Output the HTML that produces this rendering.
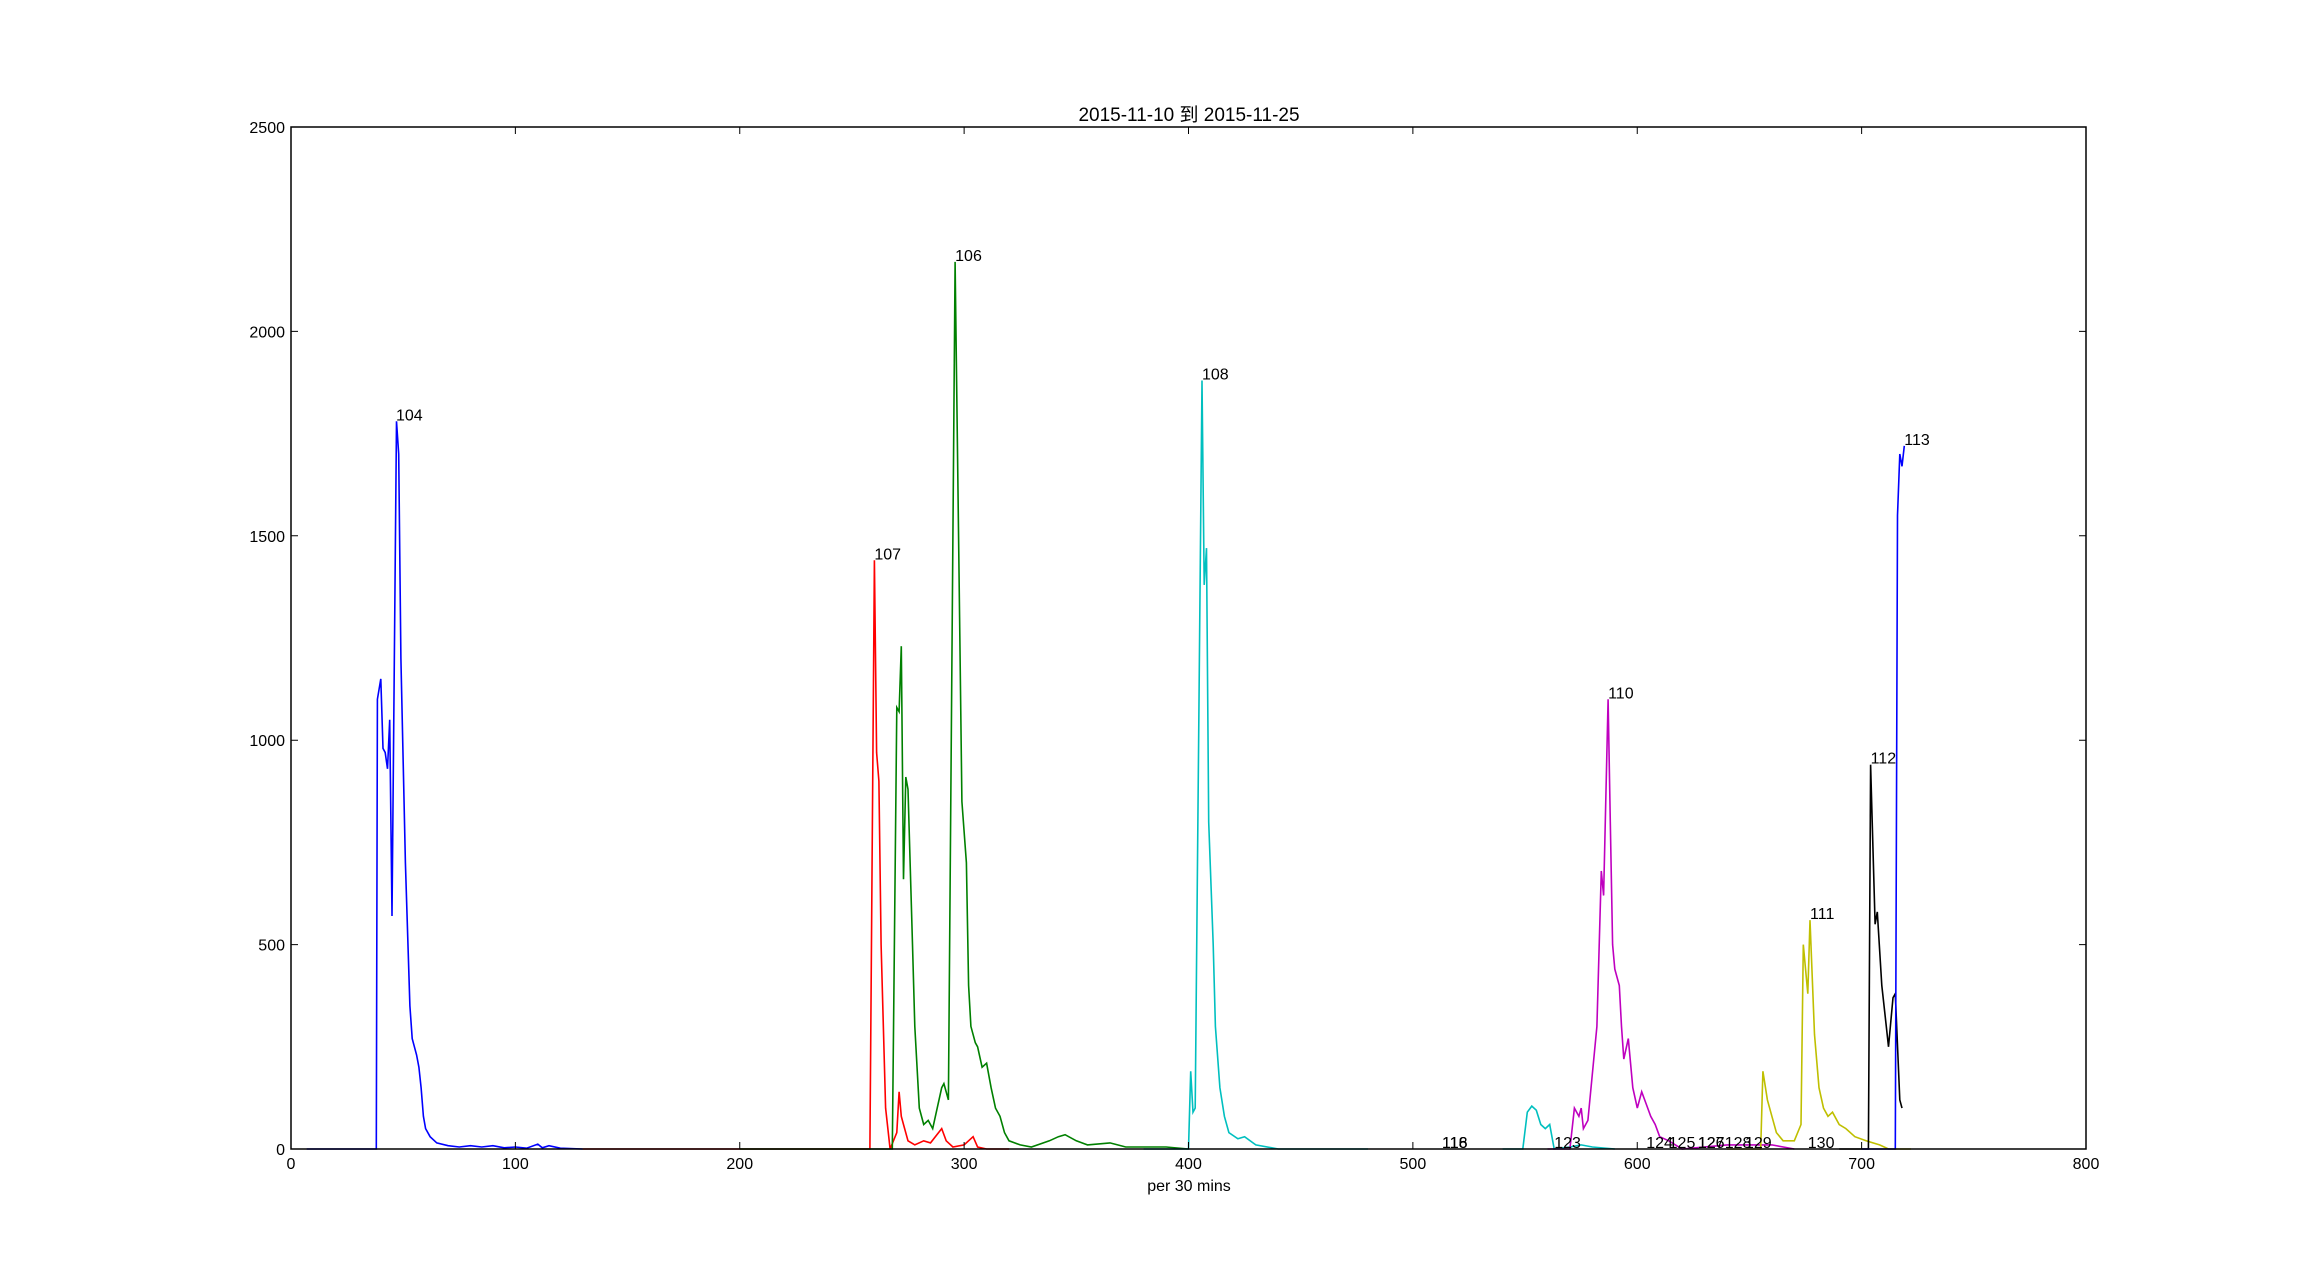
<!DOCTYPE html>
<html><head><meta charset="utf-8">
<style>
html,body{margin:0;padding:0;background:#fff;}
svg{display:block;}
text{font-family:"Liberation Sans","Noto Sans CJK SC",sans-serif;fill:#000;}
</style></head>
<body>
<svg id="chart" width="2318" height="1277" viewBox="0 0 2318 1277" xmlns="http://www.w3.org/2000/svg">
<rect x="0" y="0" width="2318" height="1277" fill="#fff"/>
<text x="1189" y="121" font-size="19" text-anchor="middle">2015-11-10 到 2015-11-25</text>
<text x="1189" y="1191" font-size="16" text-anchor="middle">per 30 mins</text>
<g id="series"></g>
<g id="labels"></g>
<rect x="291" y="127" width="1795" height="1022" fill="none" stroke="#000" stroke-width="1.5"/>
<g id="ticks"></g>
</svg>
<script>
const xTicks = [0,100,200,300,400,500,600,700,800];
const yTicks = [0,500,1000,1500,2000,2500];
const seriesNames = ['104','107','106','108','123','110','111','112','113'];
const seriesColors = ['#0000ff','#ff0000','#008000','#00bfbf','#00bfbf','#bf00bf','#bfbf00','#000000','#0000ff'];
const s104x = [7,38,38.5,40,41,42,43,44,45,47,48,49,51,53,54,55,56,57,58,59,60,62,65,70,75,80,85,90,95,100,105,110,112,115,120,130];
const s104y = [0,0,1100,1150,980,970,930,1050,570,1780,1700,1200,700,350,270,250,230,200,150,80,50,30,15,8,5,8,5,8,3,5,2,12,3,8,2,0];
const s107x = [130,258,260,261,262,263,265,267,270,271,272,273,275,278,282,285,290,292,295,300,304,306,310,320];
const s107y = [0,0,1440,970,900,500,100,0,40,140,80,60,20,10,20,15,50,20,5,10,30,5,0,0];
const s106x = [200,268,270,271,272,273,274,275,277,278,280,282,284,286,288,290,291,293,296,298,299,301,302,303,305,306,308,310,312,314,316,318,320,325,330,338,342,345,350,355,365,372,390,400];
const s106y = [0,0,1080,1070,1230,660,910,880,500,300,100,60,70,50,100,150,160,120,2170,1300,850,700,400,300,260,250,200,210,150,100,80,40,20,10,5,20,30,35,20,10,15,5,5,0];
const s108x = [380,400,401,402,403,406,407,408,409,411,412,414,416,418,422,425,430,440,480];
const s108y = [0,0,190,90,100,1880,1380,1470,800,500,300,150,80,40,25,30,10,0,0];
const s123x = [540,549,551,553,555,557,559,561,563,570,575,580,590];
const s123y = [0,0,90,105,95,60,50,60,0,5,10,5,0];
const s110x = [560,570,572,574,575,576,578,582,584,585,587,588,589,590,592,593,594,596,598,600,602,604,606,608,610,614,620,640,660,670];
const s110y = [0,0,100,80,100,50,70,300,680,620,1100,800,500,440,400,300,220,270,150,100,140,110,80,60,30,20,0,10,10,0];
const s111x = [640,655,656,658,660,662,665,670,673,674,676,677,679,681,683,685,687,690,693,697,702,708,712,722];
const s111y = [0,0,190,120,80,40,20,20,60,500,380,560,280,150,100,80,90,60,50,30,20,10,0,0];
const s112x = [690,703,704,706,707,709,711,712,714,715,717,718];
const s112y = [0,0,940,550,580,400,300,250,370,380,120,100];
const s113x = [700,715,716,717,718,719];
const s113y = [0,0,1550,1700,1670,1720];
const seriesX = [s104x,s107x,s106x,s108x,s123x,s110x,s111x,s112x,s113x];
const seriesY = [s104y,s107y,s106y,s108y,s123y,s110y,s111y,s112y,s113y];
const labelText = ['104','107','106','108','110','111','112','113','116','118','123','124','125','126','127','128','129','130'];
const labelX = [46.8,260,296,406,587,677,704,719,513,513,563,604,614,627,627,639,648,676];
const labelY = [1780,1440,2170,1880,1100,560,940,1720,0,0,0,0,0,0,0,0,0,0];

const L=291,R=2086,T=127,B=1149;
function sx(v){return L+(v-0)/800*(R-L);}
function sy(v){return B-(v-0)/2500*(B-T);}
const NS='http://www.w3.org/2000/svg';
const gS=document.getElementById('series');
for(let i=0;i<seriesX.length;i++){
  const p=document.createElementNS(NS,'polyline');
  p.setAttribute('points',seriesX[i].map((x,j)=>sx(x).toFixed(1)+','+sy(seriesY[i][j]).toFixed(1)).join(' '));
  p.setAttribute('fill','none');p.setAttribute('stroke',seriesColors[i]);p.setAttribute('stroke-width','1.6');
  
  
  gS.appendChild(p);
}
const gL=document.getElementById('labels');
for(let i=0;i<labelText.length;i++){
  const t=document.createElementNS(NS,'text');
  t.setAttribute('x',sx(labelX[i]));t.setAttribute('y',sy(labelY[i])-1);t.setAttribute('font-size','16');
  t.textContent=labelText[i];
  
  
  gL.appendChild(t);
}
const gT=document.getElementById('ticks');
xTicks.forEach(v=>{
  const x=sx(v);
  const l=document.createElementNS(NS,'path');
  l.setAttribute('d','M'+x+','+B+'v-7M'+x+','+T+'v7');l.setAttribute('stroke','#000');l.setAttribute('stroke-width','1');
  
  
  gT.appendChild(l);
  const t=document.createElementNS(NS,'text');
  t.setAttribute('x',x);t.setAttribute('y',B+20);t.setAttribute('font-size','16');t.setAttribute('text-anchor','middle');
  t.textContent=v;
  
  
  gT.appendChild(t);
});
yTicks.forEach(v=>{
  const y=sy(v);
  const l=document.createElementNS(NS,'path');
  l.setAttribute('d','M'+L+','+y+'h7M'+R+','+y+'h-7');l.setAttribute('stroke','#000');l.setAttribute('stroke-width','1');
  
  
  gT.appendChild(l);
  const t=document.createElementNS(NS,'text');
  t.setAttribute('x',L-6);t.setAttribute('y',y+6);t.setAttribute('font-size','16');t.setAttribute('text-anchor','end');
  t.textContent=v;
  
  
  gT.appendChild(t);
});
</script>
</body></html>
